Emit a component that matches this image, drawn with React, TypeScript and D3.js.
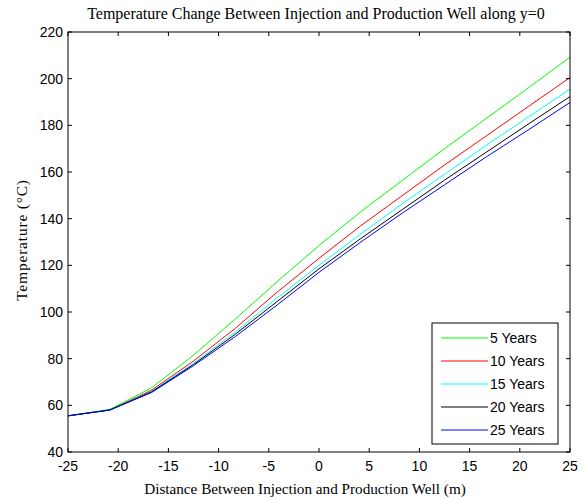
import React from "react";
import * as d3 from "d3";

const xValues = [-25, -20.83, -16.67, -12.5, -8.33, -4.17, 0, 4.17, 8.33, 12.5, 16.67, 20.83, 25];
const years5 = [55.5, 58.3, 67.5, 81.5, 97, 113, 128.5, 143, 156.5, 170, 183, 196, 209.2];
const years10 = [55.5, 58, 66.5, 79, 93, 108.5, 123, 137, 150, 163, 175.5, 188, 200.5];
const years15 = [55.5, 58, 66, 78, 91.5, 106, 120, 133.5, 146.5, 159, 171.5, 183.5, 195.5];
const years20 = [55.5, 58, 65.8, 77.5, 90.5, 104.5, 118.5, 131.5, 144, 156.5, 168.5, 180.5, 192.3];
const years25 = [55.5, 58, 65.5, 77, 89.5, 103, 117, 130, 142.5, 154.5, 166.5, 178, 189.8];
const seriesNames = ["5 Years", "10 Years", "15 Years", "20 Years", "25 Years"];
const seriesColors = ["#00ff00", "#ff0000", "#00ffff", "#000000", "#0000ff"];
const xTicks = [-25, -20, -15, -10, -5, 0, 5, 10, 15, 20, 25];
const yTicks = [40, 60, 80, 100, 120, 140, 160, 180, 200, 220];

const W = 587, H = 500;
const L = 68, R = 570, T = 32, B = 452;

export default function App() {
  const x = d3.scaleLinear().domain([-25, 25]).range([L, R]);
  const y = d3.scaleLinear().domain([40, 220]).range([B, T]);
  const allSeries = [years5, years10, years15, years20, years25];
  const line = d3.line<number>().x((_, i) => x(xValues[i])).y((d) => y(d));
  const tl = 4;
  const legX = 432, legY = 323, legW = 126, legH = 121;
  return (
    <svg width={W} height={H} style={{ position: "absolute", left: 0, top: 0, background: "#fff" }}>
      <text x={316} y={19} textAnchor="middle" fontFamily="Liberation Serif" fontSize={16}>
        Temperature Change Between Injection and Production Well along y=0
      </text>
      {allSeries.map((s, k) => (
        <path key={k} d={line(s) || ""} fill="none" stroke={seriesColors[k]} strokeWidth={1} />
      ))}
      <rect x={L} y={T} width={R - L} height={B - T} fill="none" stroke="#000" strokeWidth={1} />
      {xTicks.map((t) => (
        <g key={"x" + t}>
          <line x1={x(t)} x2={x(t)} y1={B} y2={B - tl} stroke="#000" />
          <line x1={x(t)} x2={x(t)} y1={T} y2={T + tl} stroke="#000" />
          <text x={x(t)} y={B + 19} textAnchor="middle" fontFamily="Liberation Sans" fontSize={14}>
            {t}
          </text>
        </g>
      ))}
      {yTicks.map((t) => (
        <g key={"y" + t}>
          <line x1={L} x2={L + tl} y1={y(t)} y2={y(t)} stroke="#000" />
          <line x1={R} x2={R - tl} y1={y(t)} y2={y(t)} stroke="#000" />
          <text x={L - 5} y={y(t) + 5} textAnchor="end" fontFamily="Liberation Sans" fontSize={14}>
            {t}
          </text>
        </g>
      ))}
      <text x={305} y={494} textAnchor="middle" fontFamily="Liberation Serif" fontSize={15.2}>
        Distance Between Injection and Production Well (m)
      </text>
      <text
        transform={`translate(27, 240) rotate(-90)`}
        textAnchor="middle"
        fontFamily="Liberation Serif"
        fontSize={15.5}
        letterSpacing={0.8}
      >
        Temperature (°C)
      </text>
      <rect x={legX} y={legY} width={legW} height={legH} fill="#fff" stroke="#000" strokeWidth={1} />
      {seriesNames.map((n, k) => {
        const yy = legY + 15 + k * 23;
        return (
          <g key={n}>
            <line x1={legX + 9} x2={legX + 56} y1={yy} y2={yy} stroke={seriesColors[k]} strokeWidth={1} />
            <text x={legX + 58} y={yy + 5} fontFamily="Liberation Sans" fontSize={14}>
              {n}
            </text>
          </g>
        );
      })}
    </svg>
  );
}
